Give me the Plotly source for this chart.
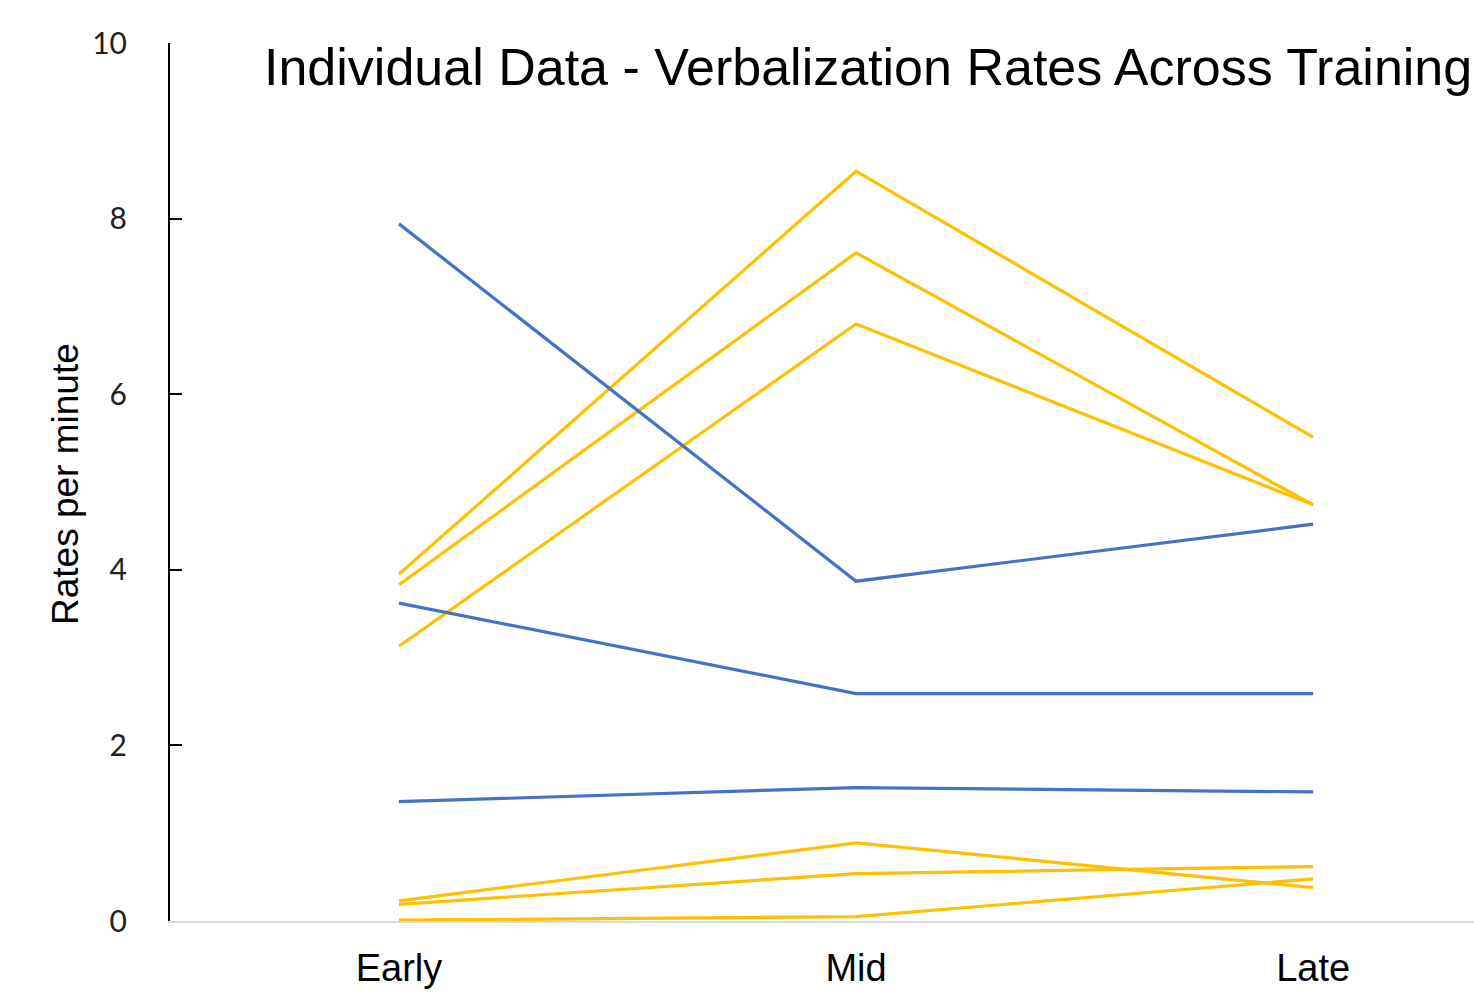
import plotly.graph_objects as go

categories = ["Early", "Mid", "Late"]

yellow_series = [
    [3.95, 8.54, 5.51],
    [3.83, 7.61, 4.74],
    [3.13, 6.80, 4.74],
    [0.23, 0.89, 0.38],
    [0.19, 0.54, 0.62],
    [0.01, 0.05, 0.48],
]
blue_series = [
    [7.94, 3.87, 4.52],
    [3.62, 2.59, 2.59],
    [1.36, 1.52, 1.47],
]

title_text = "Individual Data - Verbalization Rates Across Training"
y_title = "Rates per minute"
y_ticks = [0, 2, 4, 6, 8, 10]

YELLOW = "#FFC000"
BLUE = "#4472C4"

fig = go.Figure()
for s in yellow_series:
    fig.add_trace(go.Scatter(x=categories, y=s, mode="lines",
                             line=dict(color=YELLOW, width=3.2), showlegend=False))
for s in blue_series:
    fig.add_trace(go.Scatter(x=categories, y=s, mode="lines",
                             line=dict(color=BLUE, width=3.2), showlegend=False))

W, H = 1474, 995
L, T, B = 170, 43, 74
PW, PH = W - L, H - T - B

fig.update_layout(
    width=W, height=H,
    margin=dict(l=L, r=0, t=T, b=B),
    paper_bgcolor="white", plot_bgcolor="white",
    showlegend=False,
    annotations=[
        dict(text=title_text, xref="paper", yref="paper",
             x=(262 - L) / PW, y=(H - B - 67) / PH,
             xanchor="left", yanchor="middle", showarrow=False,
             font=dict(family="Liberation Sans, Arial", size=52, color="black")),
        dict(text=y_title, xref="paper", yref="paper",
             x=(65 - L) / PW, y=(H - B - 484) / PH, textangle=-90,
             xanchor="center", yanchor="middle", showarrow=False,
             font=dict(family="Liberation Sans, Arial", size=37, color="black")),
    ],
)
fig.update_xaxes(
    type="category", range=[-0.501, 2.352],
    showgrid=False, zeroline=False,
    showline=True, linecolor="#D9D9D9", linewidth=2,
    ticks="", ticklabelstandoff=12,
    tickfont=dict(family="Liberation Sans, Arial", size=38, color="black"),
)
fig.update_yaxes(
    range=[0, 10], tickvals=y_ticks,
    showgrid=False, zeroline=False,
    showline=True, linecolor="black", linewidth=2,
    ticks="inside", ticklen=12, tickwidth=2, tickcolor="black",
    ticklabelstandoff=35,
    tickfont=dict(family="Lato, Open Sans", size=30, color="#222222"),
)

fig.write_html("out.html",
               config={"displayModeBar": False},
               post_script="document.body.style.margin='0';document.body.style.overflow='hidden';")
